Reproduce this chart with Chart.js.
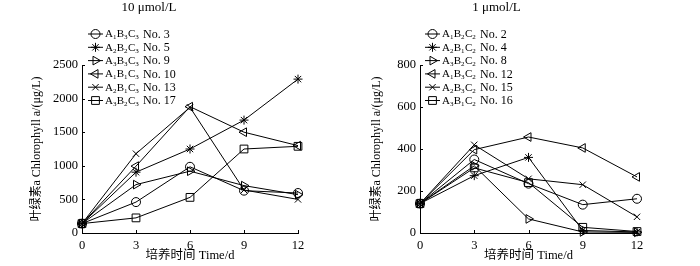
<!DOCTYPE html>
<html>
<head>
<meta charset="utf-8">
<script src="https://cdn.jsdelivr.net/npm/chart.js@4"></script>
<style>
  html,body{margin:0;padding:0;background:#fff;}
  #wrap{position:relative;width:700px;height:266px;overflow:hidden;background:#fff;}
  canvas{position:absolute;top:0;}
</style>
</head>
<body>
<div id="wrap">
  <canvas id="c1" width="380" height="266" style="left:0px"></canvas>
  <canvas id="c2" width="344" height="266" style="left:356px"></canvas>
</div>
<script>
// ---------- data ----------
const days = [0, 3, 6, 9, 12];
const xTicks = [0, 3, 6, 9, 12];

// 10 μmol/L
const titleA = "10 μmol/L";
const yTicksA = [0, 500, 1000, 1500, 2000, 2500];
const namesA = [["A","1","B","3","C","3","No. 3"],["A","2","B","2","C","3","No. 5"],["A","3","B","3","C","3","No. 9"],
                ["A","1","B","1","C","3","No. 10"],["A","2","B","1","C","3","No. 13"],["A","3","B","2","C","3","No. 17"]];
const no3  = [140, 460, 985, 630, 595];
const no5  = [140, 905, 1250, 1680, 2290];
const no9  = [140, 720, 920, 705, 570];
const no10 = [140, 995, 1880, 1500, 1300];
const no13 = [140, 1180, 1870, 640, 500];
const no17 = [140, 225, 530, 1250, 1290];

// 1 μmol/L
const titleB = "1 μmol/L";
const yTicksB = [0, 200, 400, 600, 800];
const namesB = [["A","1","B","2","C","2","No. 2"],["A","2","B","1","C","2","No. 4"],["A","3","B","2","C","2","No. 8"],
                ["A","1","B","3","C","2","No. 12"],["A","2","B","3","C","2","No. 15"],["A","3","B","1","C","2","No. 16"]];
const no2  = [140, 350, 235, 135, 163];
const no4  = [140, 273, 360, 12, 5];
const no8  = [140, 320, 67, 5, 3];
const no12 = [140, 397, 457, 405, 267];
const no15 = [140, 420, 258, 230, 77];
const no16 = [140, 310, 240, 27, 7];

const xTitle = "培养时间 Time/d";
const yTitle = "叶绿素a Chlorophyll a/(μg/L)";

// marker styles (in series order)
const markers = [
  {pointStyle:'circle', rotation:0, radius:4.5},
  {pointStyle:'star', rotation:0, radius:4.5},
  {pointStyle:'triangle', rotation:90, radius:5},
  {pointStyle:'triangle', rotation:-90, radius:5},
  {pointStyle:'crossRot', rotation:0, radius:4.5},
  {pointStyle:'rect', rotation:0, radius:5.5}
];

const FONT = "'Liberation Serif', 'Noto Sans CJK SC', serif";
Chart.defaults.font.family = FONT;
Chart.defaults.color = '#000';

function makeDatasets(series, names){
  return series.map((vals, i) => ({
    label: names[i].join(''),
    data: days.map((d, k) => ({x: d, y: vals[k]})),
    borderColor: '#000',
    borderWidth: 1,
    backgroundColor: 'rgba(0,0,0,0)',
    pointBorderColor: '#000',
    pointBackgroundColor: 'rgba(0,0,0,0)',
    pointBorderWidth: 1,
    pointStyle: markers[i].pointStyle,
    pointRotation: markers[i].rotation,
    pointRadius: markers[i].radius,
    tension: 0,
    clip: false
  }));
}

const legendPlugin = {
  id: 'customLegend',
  afterDraw(chart, args, opts) {
    const ctx = chart.ctx;
    ctx.save();
    // inward ticks
    ctx.strokeStyle = '#000';
    ctx.lineWidth = 1;
    const xs = chart.scales.x, ys = chart.scales.y;
    const ca = chart.chartArea;
    ctx.beginPath();
    xTicks.forEach(v => { const px = Math.round(xs.getPixelForValue(v)) + 0.5; ctx.moveTo(px, ca.bottom); ctx.lineTo(px, ca.bottom - 3); });
    opts.yTicks.forEach(v => { const py = Math.round(ys.getPixelForValue(v)) + 0.5; ctx.moveTo(ca.left, py); ctx.lineTo(ca.left + 3, py); });
    ctx.stroke();
    // legend
    const names = opts.names;
    for (let i = 0; i < names.length; i++) {
      const y = opts.y0 + i * opts.dy;
      ctx.strokeStyle = '#000';
      ctx.lineWidth = 1;
      ctx.beginPath();
      ctx.moveTo(opts.x0, y + 0.5);
      ctx.lineTo(opts.x0 + 15, y + 0.5);
      ctx.stroke();
      ctx.fillStyle = 'rgba(0,0,0,0)';
      Chart.helpers.drawPoint(ctx, {pointStyle: markers[i].pointStyle, rotation: markers[i].rotation,
        radius: markers[i].radius, borderWidth: 1}, opts.x0 + 7.5, y + 0.5);
      ctx.fillStyle = '#000';
      ctx.textBaseline = 'middle';
      ctx.textAlign = 'left';
      let x = opts.x0 + 17;
      const n = names[i];
      for (let k = 0; k < 6; k++) {
        if (k % 2 === 0) {
          ctx.font = "11px " + FONT;
          ctx.fillText(n[k], x, y + 1);
          x += ctx.measureText(n[k]).width;
        } else {
          ctx.font = "7px " + FONT;
          ctx.fillText(n[k], x, y + 4);
          x += ctx.measureText(n[k]).width + 0.3;
        }
      }
      ctx.font = "12px " + FONT;
      ctx.fillText(n[6], opts.x0 + 17 + 38, y + 1);
    }
    ctx.restore();
  }
};

function makeChart(id, series, names, title, yTicks, yMax, yAxisWidth, padRight, yTitlePad, legendX0) {
  return new Chart(document.getElementById(id), {
    type: 'line',
    data: { datasets: makeDatasets(series, names) },
    plugins: [legendPlugin],
    options: {
      responsive: false,
      animation: false,
      events: [],
      layout: { padding: { top: 0, left: 0, right: padRight, bottom: 0 } },
      plugins: {
        legend: { display: false },
        tooltip: { enabled: false },
        title: { display: true, text: title, color: '#000', font: { size: 13, weight: 'normal' },
                 padding: { top: 0, bottom: 49.4 } },
        customLegend: { names: names, x0: legendX0, y0: 33.5, dy: 13.3, yTicks: yTicks }
      },
      scales: {
        x: {
          type: 'linear', min: 0, max: 12,
          afterBuildTicks: s => { s.ticks = xTicks.map(v => ({value: v})); },
          afterFit: s => { s.height = 33; },
          grid: { display: false, drawTicks: false },
          border: { display: true, color: '#000', width: 1 },
          ticks: { padding: 5, font: { size: 12.5 }, color: '#000', maxRotation: 0, callback: v => String(v) },
          title: { display: true, text: xTitle, color: '#000', font: { size: 12.5 }, padding: { top: 0, bottom: 3 } }
        },
        y: {
          type: 'linear', min: 0, max: yMax,
          afterBuildTicks: s => { s.ticks = yTicks.map(v => ({value: v})); },
          afterFit: s => { s.width = yAxisWidth; },
          grid: { display: false, drawTicks: false },
          border: { display: true, color: '#000', width: 1 },
          ticks: { padding: 4, font: { size: 12.5 }, color: '#000', callback: v => String(v) },
          title: { display: true, text: yTitle, color: '#000', font: { size: 12 }, padding: { top: yTitlePad, bottom: 0 } }
        }
      }
    }
  });
}

makeChart('c1', [no3, no5, no9, no10, no13, no17], namesA, titleA, yTicksA, 2500, 82, 82, 30, 88);
makeChart('c2', [no2, no4, no8, no12, no15, no16], namesB, titleB, yTicksB, 800, 64, 63, 14, 425 - 356);
</script>
</body>
</html>
